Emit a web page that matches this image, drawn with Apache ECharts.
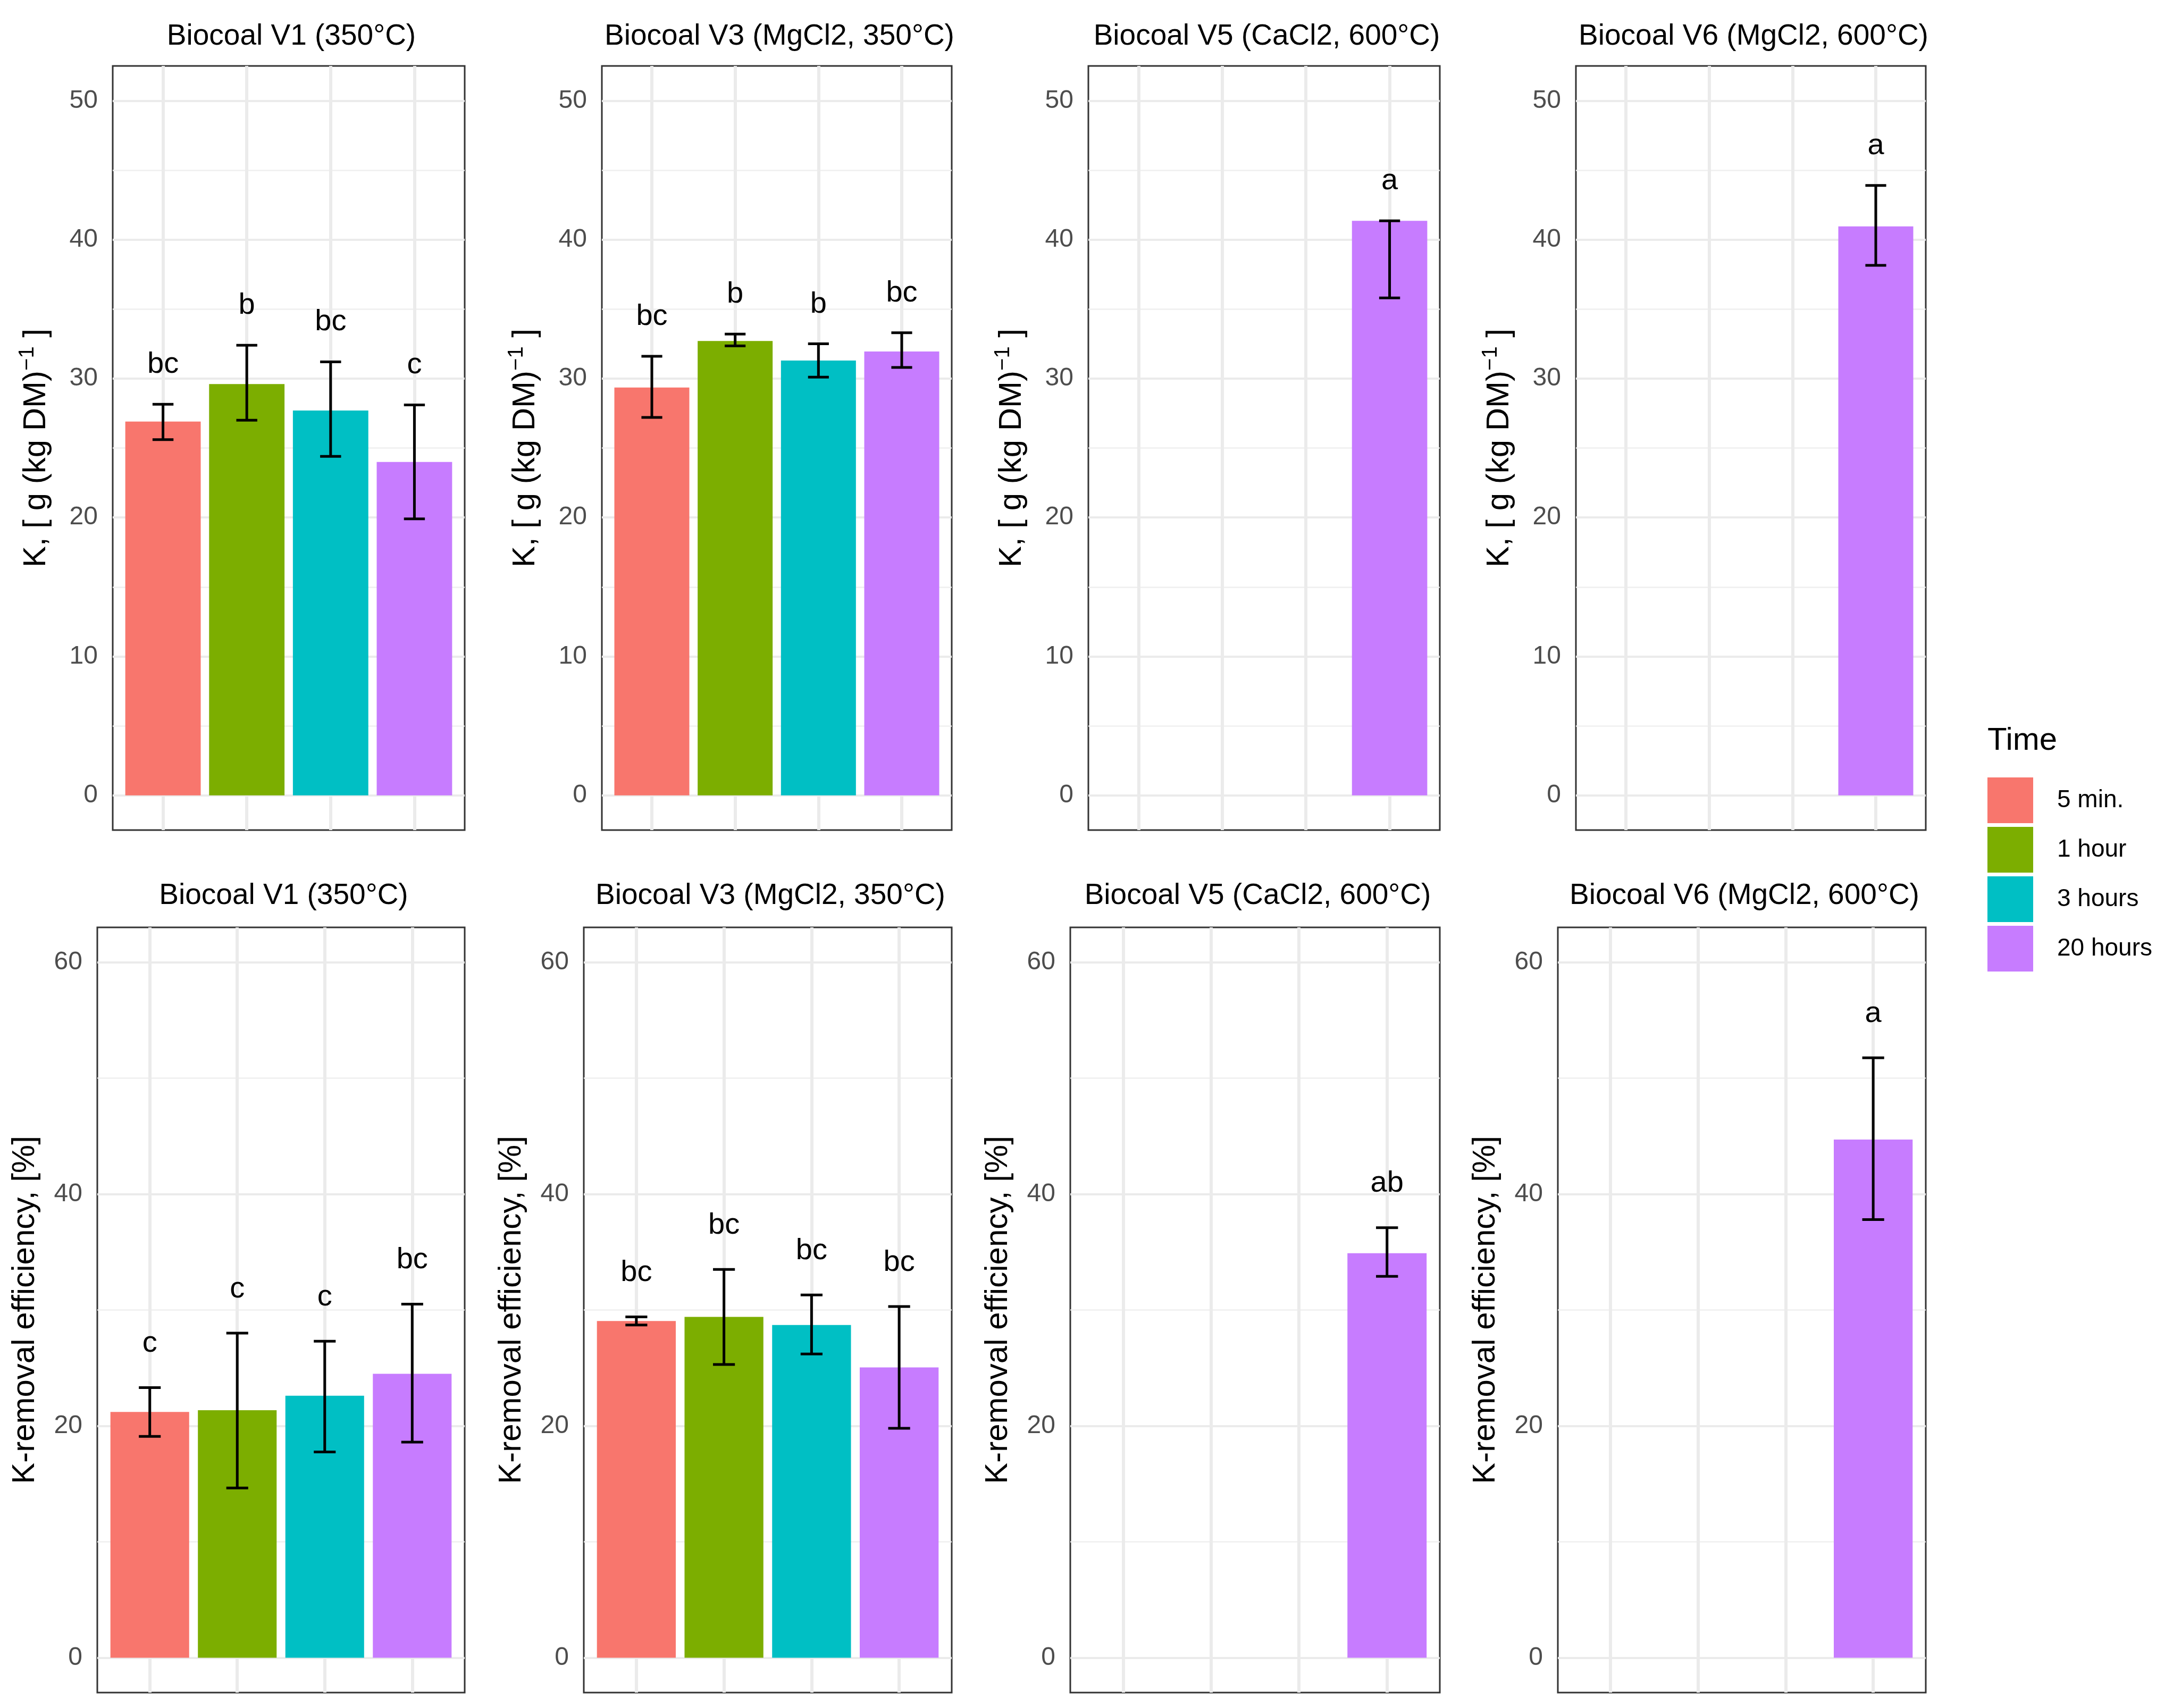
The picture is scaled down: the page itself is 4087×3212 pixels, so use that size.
<!DOCTYPE html>
<html>
<head>
<meta charset="utf-8">
<script src="https://cdn.jsdelivr.net/npm/echarts@6/dist/echarts.min.js"></script>
<style>
html, body { margin: 0; padding: 0; background: #ffffff; }
#c { width: 4087px; height: 3212px; }
</style>
</head>
<body>
<div id="c"></div>
<script>
// ---------------- DATA ----------------
const times = ['5 min.', '1 hour', '3 hours', '20 hours'];
const panelTitles = ['Biocoal V1 (350°C)', 'Biocoal V3 (MgCl2, 350°C)', 'Biocoal V5 (CaCl2, 600°C)', 'Biocoal V6 (MgCl2, 600°C)'];

// Top row: K content, g (kg DM)^-1
const kMean = [[26.9, 29.6, 27.7, 24.0], [29.35, 32.7, 31.3, 31.95], [null, null, null, 41.35], [null, null, null, 40.95]];
const kLow = [[25.6, 27.0, 24.4, 19.9], [27.2, 32.35, 30.1, 30.8], [null, null, null, 35.8], [null, null, null, 38.15]];
const kHigh = [[28.15, 32.4, 31.2, 28.1], [31.6, 33.2, 32.5, 33.3], [null, null, null, 41.35], [null, null, null, 43.9]];
const kLetters = [['bc', 'b', 'bc', 'c'], ['bc', 'b', 'b', 'bc'], ['', '', '', 'a'], ['', '', '', 'a']];
const kTicks = [0, 10, 20, 30, 40, 50];

// Bottom row: K-removal efficiency, %
const effMean = [[21.2, 21.35, 22.6, 24.5], [29.05, 29.4, 28.7, 25.05], [null, null, null, 34.9], [null, null, null, 44.7]];
const effLow = [[19.1, 14.65, 17.75, 18.6], [28.7, 25.3, 26.2, 19.8], [null, null, null, 32.9], [null, null, null, 37.8]];
const effHigh = [[23.3, 28.0, 27.3, 30.5], [29.4, 33.5, 31.3, 30.3], [null, null, null, 37.1], [null, null, null, 51.75]];
const effLetters = [['c', 'c', 'c', 'bc'], ['bc', 'bc', 'bc', 'bc'], ['', '', '', 'ab'], ['', '', '', 'a']];
const effTicks = [0, 20, 40, 60];

// ---------------- STYLE / LAYOUT ----------------
const colors = ['#F8766D', '#7CAE00', '#00BFC4', '#C77CFF'];
const FONT = "'Liberation Sans', Arial, sans-serif";
const rows = [
  { mean: kMean, low: kLow, high: kHigh, letters: kLetters, ticks: kTicks,
    name: '{a|K, [ g (kg DM)}{s|−1}{a| ]}',
    top: 124, height: 1437, lefts: [212, 1132, 2047, 2964], rights: [874, 1790, 2708, 3622],
    titleTop: 36, nameGap: 108, letterOffset: 2.85 },
  { mean: effMean, low: effLow, high: effHigh, letters: effLetters, ticks: effTicks,
    name: '{a|K-removal efficiency, [%]}',
    top: 1744, height: 1439, lefts: [183, 1098, 2013, 2930], rights: [874, 1790, 2708, 3622],
    titleTop: 1652, nameGap: 100, letterOffset: 3.8 }
];

const grids = [], xAxes = [], yAxes = [], series = [], titles = [];
const nCat = times.length;

rows.forEach((row, r) => {
  const t0 = row.ticks[0], t1 = row.ticks[row.ticks.length - 1];
  const pad = (t1 - t0) * 0.05;
  const yMin = t0 - pad, yMax = t1 + pad;
  const step = row.ticks[1] - row.ticks[0];
  for (let p = 0; p < 4; p++) {
    const g = r * 4 + p;
    const left = row.lefts[p], right = row.rights[p];
    grids.push({ left: left, top: row.top, width: right - left, height: row.height,
      show: true, borderColor: '#333333', borderWidth: 3, backgroundColor: 'transparent' });
    xAxes.push({ gridIndex: g, type: 'value', min: 1 - 0.6, max: nCat + 0.6,
      minInterval: 1, maxInterval: 1, splitNumber: nCat,
      axisLine: { show: false }, axisTick: { show: false }, axisLabel: { show: false },
      splitLine: { show: true, showMinLine: false, showMaxLine: false, lineStyle: { color: '#EBEBEB', width: 6 } } });
    // minor grid axis
    yAxes.push({ gridIndex: g, type: 'value', position: 'left', offset: 0, min: yMin, max: yMax,
      minInterval: step / 2, maxInterval: step / 2, splitNumber: Math.round((yMax - yMin) / (step / 2)),
      axisLine: { show: false }, axisTick: { show: false }, axisLabel: { show: false },
      splitLine: { show: true, showMinLine: false, showMaxLine: false, lineStyle: { color: '#EFEFEF', width: 2.5 } } });
    // major axis
    yAxes.push({ gridIndex: g, type: 'value', position: 'left', offset: 0, min: yMin, max: yMax,
      minInterval: step, maxInterval: step, splitNumber: Math.round((yMax - yMin) / step),
      axisLine: { show: false }, axisTick: { show: false },
      axisLabel: { show: true, fontSize: 48, color: '#4D4D4D', fontFamily: FONT, margin: 28,
        showMinLabel: false, showMaxLabel: false,
        formatter: v => (row.ticks.indexOf(v) >= 0 ? String(v) : '') },
      splitLine: { show: true, showMinLine: false, showMaxLine: false, lineStyle: { color: '#EBEBEB', width: 4 } },
      name: row.name, nameLocation: 'middle', nameRotate: 90, nameGap: row.nameGap,
      nameTextStyle: { fontFamily: FONT, color: '#000',
        rich: { a: { fontSize: 60, fontFamily: FONT, color: '#000', lineHeight: 72 },
                s: { fontSize: 40, fontFamily: FONT, color: '#000', lineHeight: 72, verticalAlign: 'top', padding: [0, 0, 26, 0] } } } });

    titles.push({ text: panelTitles[p], left: (left + right) / 2, top: row.titleTop, textAlign: 'center',
      textStyle: { fontSize: 55, fontWeight: 'normal', color: '#000', fontFamily: FONT } });

    // bars: one series per time level (so the legend is the library's own)
    for (let t = 0; t < nCat; t++) {
      series.push({ type: 'bar', name: times[t], xAxisIndex: g, yAxisIndex: 2 * g + 1,
        barWidth: '90%', barGap: '-100%', z: 2,
        itemStyle: { color: colors[t] },
        data: [[t + 1, row.mean[p][t]]] });
    }

    // error bars + significance letters
    const errData = [];
    for (let t = 0; t < nCat; t++) {
      if (row.mean[p][t] != null) errData.push([t + 1, row.mean[p][t], row.low[p][t], row.high[p][t], t]);
    }
    const letters = row.letters[p];
    const off = row.letterOffset;
    series.push({ type: 'custom', xAxisIndex: g, yAxisIndex: 2 * g + 1, z: 5,
      encode: { x: 0, y: [1, 2, 3] },
      data: errData,
      renderItem: (params, api) => {
        const x = api.value(0), lo = api.value(2), hi = api.value(3), idx = api.value(4);
        const pHi = api.coord([x, hi]), pLo = api.coord([x, lo]);
        const half = api.size([0.25, 0])[0] / 2;
        const pT = api.coord([x, hi + off]);
        const st = { stroke: '#000', lineWidth: 5 };
        return { type: 'group', children: [
          { type: 'line', shape: { x1: pHi[0], y1: pHi[1], x2: pLo[0], y2: pLo[1] }, style: st },
          { type: 'line', shape: { x1: pHi[0] - half, y1: pHi[1], x2: pHi[0] + half, y2: pHi[1] }, style: st },
          { type: 'line', shape: { x1: pLo[0] - half, y1: pLo[1], x2: pLo[0] + half, y2: pLo[1] }, style: st },
          { type: 'text', x: pT[0], y: pT[1], style: { text: letters[idx], fontSize: 56, fontFamily: FONT,
              fill: '#000', align: 'center', verticalAlign: 'middle' } }
        ] };
      } });
  }
});

titles.push({ text: 'Time', left: 3733, top: 1358,
  textStyle: { fontSize: 60, fontWeight: 'normal', color: '#000', fontFamily: FONT } });

const option = {
  backgroundColor: '#ffffff',
  animation: false,
  title: titles,
  legend: { orient: 'vertical', left: 3733, top: 1457, itemWidth: 86, itemHeight: 86, itemGap: 7,
    icon: 'rect', data: times, selectedMode: false,
    textStyle: { fontSize: 46, color: '#000', fontFamily: FONT, padding: [0, 0, 0, 40] } },
  grid: grids, xAxis: xAxes, yAxis: yAxes, series: series
};

const chart = echarts.init(document.getElementById('c'), null, { renderer: 'canvas', width: 4087, height: 3212 });
chart.setOption(option);
</script>
</body>
</html>
